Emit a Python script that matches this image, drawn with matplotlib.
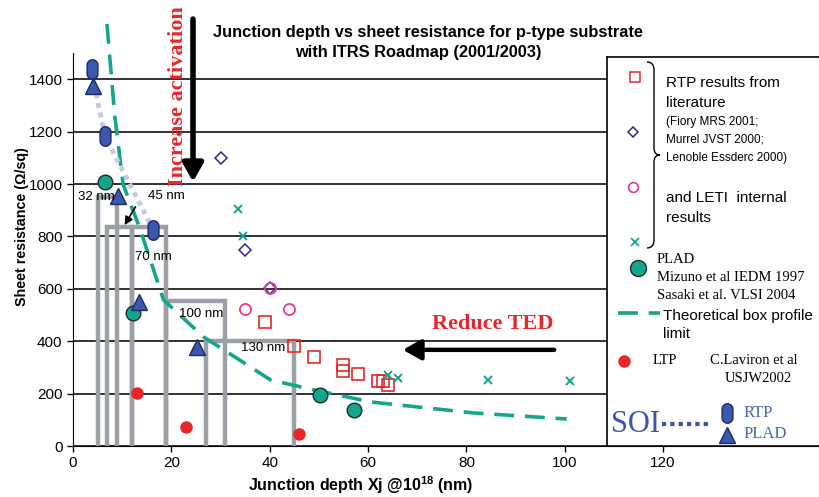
import numpy as np
import matplotlib
matplotlib.use("Agg")
import matplotlib.pyplot as plt
from matplotlib.path import Path
from matplotlib.patches import PathPatch

plt.rcParams['font.family'] = ['Liberation Sans', 'DejaVu Sans']
plt.rcParams['mathtext.fontset'] = 'custom'
plt.rcParams['mathtext.rm'] = 'Liberation Sans:bold'
plt.rcParams['mathtext.bf'] = 'Liberation Sans:bold'
SERIF = ['Liberation Serif', 'DejaVu Serif']

# --- data ---
rtp_x = [39, 45, 49, 55, 55, 58, 62, 63, 64]
rtp_y = [474, 380, 340, 308, 285, 275, 249, 249, 233]
lit_x = [30, 35, 40]
lit_y = [1100, 750, 604]
leti_o_x = [35, 40, 44]
leti_o_y = [524, 604, 524]
leti_x_x = [33.6, 34.6, 64, 66, 84.3, 101]
leti_x_y = [903, 800, 271, 260, 252, 248]
plad_x = [6.5, 12.2, 50.2, 57.1]
plad_y = [1006, 508, 195, 138]
ltp_x = [13, 23, 46]
ltp_y = [203, 73, 46]
soi_rtp_x = [3.9, 6.5, 16.3]
soi_rtp_y = [1438, 1182, 826]
soi_plad_x = [4.1, 9.2, 13.5, 25.3]
soi_plad_y = [1373, 953, 551, 379]
limit_x = [6.9, 8.5, 10.2, 13.6, 18.4, 26.5, 40.2, 49, 60.6, 81.6, 100.4]
limit_y = [1611, 1259, 998, 830, 558, 417, 252, 214, 168, 126, 103]
# ITRS roadmap boxes
nodes = ['32 nm', '45 nm', '70 nm', '100 nm', '130 nm']
node_xmin = [5, 7, 12, 19, 27]
node_xmax = [9, 12, 19, 31, 45]
node_rmax = [950, 835, 835, 555, 400]

RED = '#e8262b'
NAVY = '#2a2a90'
PINK = '#e8399a'
TEAL = '#14a58a'
BLUE = '#3a58ac'
GRAY = '#9aa0a6'

# pill-shaped marker
t = np.linspace(0, np.pi, 16)
top = np.column_stack([0.5 * np.cos(t), 0.4 + 0.5 * np.sin(t)])
bot = np.column_stack([0.5 * np.cos(t + np.pi), -0.4 + 0.5 * np.sin(t + np.pi)])
pill = Path(np.vstack([top, bot, top[:1]]), closed=True)

W, H = 819, 497
fig = plt.figure(figsize=(W / 100, H / 100), dpi=100)
ax = fig.add_axes([73 / W, 51 / H, 746 / W, 393 / H])
ax.set_xlim(0, 151.7)
ax.set_ylim(0, 1500)
ax.set_xticks(range(0, 121, 20))
ax.set_yticks(range(0, 1401, 200))
ax.tick_params(labelsize=11, length=4, width=1, direction='out')
for s in ['top', 'right']:
    ax.spines[s].set_visible(False)
ax.yaxis.grid(True, color='#222222', lw=1.3)
ax.set_axisbelow(True)

for x0, x1, r in zip(node_xmin, node_xmax, node_rmax):
    ax.plot([x0, x0, x1, x1], [0, r, r, 0], color=GRAY, lw=3.2, zorder=2,
            solid_joinstyle='miter')

ax.plot(limit_x, limit_y, color=TEAL, lw=2.6, ls=(0, (5.5, 3)), zorder=3, clip_on=False)
ax.plot(soi_rtp_x[:1] + soi_rtp_x[1:], [soi_rtp_y[0] - 20] + soi_rtp_y[1:],
        color='#c3c9e6', lw=3.5, ls=(0, (1, 1)), zorder=3)

ax.plot(rtp_x, rtp_y, 's', ms=8, mfc='none', mec=RED, mew=1.2, zorder=4)
ax.plot(lit_x, lit_y, 'D', ms=6, mfc='none', mec=NAVY, mew=1.1, zorder=4)
ax.plot(leti_o_x, leti_o_y, 'o', ms=8, mfc='none', mec=PINK, mew=1.3, zorder=4)
ax.plot(leti_x_x, leti_x_y, 'x', ms=6, mec=TEAL, mew=1.4, zorder=4)
ax.plot(plad_x, plad_y, 'o', ms=10.5, mfc=TEAL, mec='#1a2a2a', mew=1, zorder=5)
ax.plot(ltp_x, ltp_y, 'o', ms=8, mfc=RED, mec=RED, zorder=5)
ax.plot(soi_rtp_x, soi_rtp_y, marker=pill, ls='none', ms=14, mfc=BLUE, mec='#1c2a66',
        mew=1, zorder=5, clip_on=False)
ax.plot(soi_plad_x, soi_plad_y, '^', ms=12, mfc=BLUE, mec='#1c2a66', mew=1, zorder=5)

label_pos = [(1.0, 949), (15.3, 953), (12.6, 723), (21.5, 505), (34.1, 375)]
for name, (lx, ly) in zip(nodes, label_pos):
    ax.text(lx, ly, name, fontsize=9.5, ha='left', va='center', zorder=6)
ax.annotate('', xy=(10.2, 834), xytext=(13.0, 922),
            arrowprops=dict(arrowstyle='-|>', color='black', lw=1.2, mutation_scale=12), zorder=6)

ax.text(21.3, 1335, 'Increase activation', rotation=90, ha='center', va='center',
        color=RED, fontsize=16, fontweight='bold', family=SERIF, clip_on=False)
ax.annotate('', xy=(24.4, 998), xytext=(24.4, 1640), annotation_clip=False,
            arrowprops=dict(arrowstyle='-|>,head_width=0.34,head_length=0.6',
                            color='black', lw=4, mutation_scale=18))
ax.text(85.4, 467, 'Reduce TED', ha='center', va='center', color=RED,
        fontsize=16, fontweight='bold', family=SERIF)
ax.annotate('', xy=(66.5, 367), xytext=(98.4, 367),
            arrowprops=dict(arrowstyle='-|>,head_width=0.38,head_length=0.68',
                            color='black', lw=3.2, mutation_scale=16))

fig.text(428 / W, 1 - 32 / H, 'Junction depth vs sheet resistance for p-type substrate',
         ha='center', va='center', fontsize=11.8, fontweight='bold')
fig.text(418 / W, 1 - 53 / H, 'with ITRS Roadmap (2001/2003)',
         ha='center', va='center', fontsize=11.8, fontweight='bold')
fig.text(361 / W, 1 - 491 / H, r'Junction depth Xj @10$^{\mathbf{18}}$ (nm)',
         ha='center', va='baseline', fontsize=11.5, fontweight='bold')
fig.text(22 / W, 1 - 227 / H, 'Sheet resistance (\u03a9/sq)', rotation=90,
         ha='center', va='center', fontsize=10.3, fontweight='bold')

# --- legend box, in pixel coordinates ---
lg = fig.add_axes([607 / W, 52 / H, 212 / W, 388 / H])
lg.set_xlim(607, 819)
lg.set_ylim(445, 57)
lg.set_xticks([])
lg.set_yticks([])
for s in ['bottom', 'right']:
    lg.spines[s].set_visible(False)
for s in ['top', 'left']:
    lg.spines[s].set_linewidth(1.2)

lg.plot(635, 77, 's', ms=6.5, mfc='none', mec=RED, mew=1.1)
lg.plot(633, 132, 'D', ms=5, mfc='none', mec=NAVY, mew=1.1)
lg.plot(633, 187, 'o', ms=7, mfc='none', mec=PINK, mew=1.2)
lg.plot(635, 242, 'x', ms=5.5, mec=TEAL, mew=1.3)
brace = Path([(647, 62), (654, 62), (654, 70), (654, 148),
              (654, 155), (660, 155), (654, 155), (654, 162),
              (654, 240), (654, 248), (647, 248)],
             [Path.MOVETO, Path.CURVE3, Path.CURVE3, Path.LINETO,
              Path.CURVE3, Path.CURVE3, Path.CURVE3, Path.CURVE3,
              Path.LINETO, Path.CURVE3, Path.CURVE3])
lg.add_patch(PathPatch(brace, fc='none', ec='black', lw=1))

lg.text(666, 83, 'RTP results from', fontsize=11, va='center')
lg.text(666, 103, 'literature', fontsize=11, va='center')
lg.text(666, 122, '(Fiory MRS 2001;', fontsize=8.5, va='center')
lg.text(666, 139, 'Murrel JVST 2000;', fontsize=8.5, va='center')
lg.text(666, 158, 'Lenoble Essderc 2000)', fontsize=8.5, va='center')
lg.text(666, 198, 'and LETI  internal', fontsize=11, va='center')
lg.text(666, 218, 'results', fontsize=11, va='center')

lg.plot(638, 268, 'o', ms=11.5, mfc=TEAL, mec='#1a2a2a', mew=1)
lg.text(657, 259, 'PLAD', fontsize=10.5, va='center', family=SERIF)
lg.text(657, 277, 'Mizuno et al IEDM 1997', fontsize=10.5, va='center', family=SERIF)
lg.text(657, 295, 'Sasaki et al. VLSI 2004', fontsize=10.5, va='center', family=SERIF)

lg.plot([618, 660], [313, 313], color=TEAL, lw=2.6, ls=(0, (5.5, 3)))
lg.text(663, 316, 'Theoretical box profile', fontsize=11, va='center')
lg.text(663, 334, 'limit', fontsize=11, va='center')

lg.plot(624, 361, 'o', ms=8, mfc=RED, mec=RED)
lg.text(653, 360, 'LTP', fontsize=10.5, va='center', family=SERIF)
lg.text(710, 360, 'C.Laviron et al', fontsize=10.5, va='center', family=SERIF)
lg.text(725, 378, 'USJW2002', fontsize=10.5, va='center', family=SERIF)

lg.text(611, 424, 'SOI', fontsize=22, va='center', color='#3f56a8', family=SERIF)
lg.plot([662, 712], [424, 424], color='#3b4fa0', lw=3, ls=(0, (1, 1)))
lg.plot(727, 413, marker=pill, ms=14, mfc=BLUE, mec='#1c2a66', mew=1)
lg.plot(727, 435, '^', ms=12, mfc=BLUE, mec='#1c2a66', mew=1)
lg.text(744, 413, 'RTP', fontsize=12, va='center', color='#4a66b5', family=SERIF)
lg.text(744, 434, 'PLAD', fontsize=12, va='center', color='#4a66b5', family=SERIF)

fig.savefig('out.png', dpi=100)
